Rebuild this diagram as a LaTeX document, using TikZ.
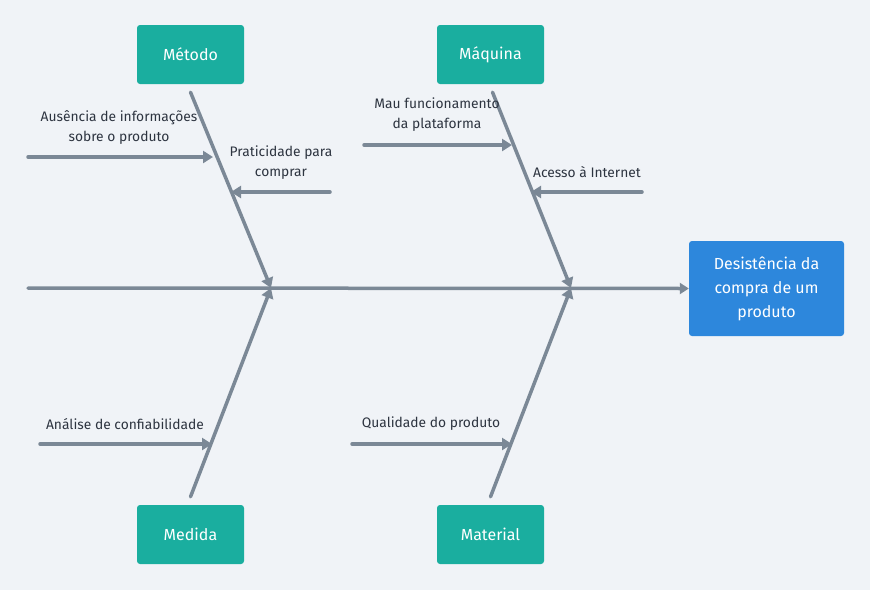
\documentclass[tikz,border=0pt]{standalone}
\usepackage{fontspec}
\setmainfont{Fira Sans}
\usepackage{tikz}
\usetikzlibrary{arrows.meta}

\definecolor{bgcol}{HTML}{F0F3F7}
\definecolor{catcol}{HTML}{1AAE9F}
\definecolor{effcol}{HTML}{2D87DC}
\definecolor{bonecol}{HTML}{7B8896}
\definecolor{txtcol}{HTML}{2D3440}

\begin{document}
\begin{tikzpicture}
    [x=1pt,y=-1pt,
     category/.style={fill=catcol,rounded corners=3pt,minimum width=107pt,minimum height=59pt,
       text=white,font=\fontsize{16}{24}\selectfont},
     effect/.style={fill=effcol,rounded corners=3pt,minimum width=155pt,minimum height=95pt,
       text=white,align=center,font=\fontsize{16}{24}\selectfont},
     bone/.style={draw=bonecol,line width=3.5pt,line cap=round,-{Triangle[length=10pt,width=12pt]}},
     cause/.style={draw=bonecol,line width=3.5pt,line cap=round,-{Triangle[length=10pt,width=12pt]}},
     causetext/.style={text=txtcol,align=center,inner sep=0pt,font=\fontsize{13.8}{20}\selectfont}]
    \fill[bgcol] (0,0) rectangle (870,590);
    % categories and effect
    \node[category] (METODO) at (190.5,54.5) {Método};
    \node[category] (MAQUINA) at (490.5,54.5) {Máquina};
    \node[category] (MEDIDA) at (190.5,534.5) {Medida};
    \node[category] (MATERIAL) at (490.5,534.5) {Material};
    \node[effect] (EFFECT) at (766.5,288.5) {Desistência da\\compra de um\\produto};
    % spine
    \coordinate (TAIL) at (28,288);
    \coordinate (SPa) at (271,288);
    \coordinate (SPb) at (571,288);
    \draw[bone,-{Triangle[length=9pt,width=11pt]}] (TAIL) -- (EFFECT.west);
    \draw[bone] ([yshift=-8pt]METODO.south) -- (SPa);
    \draw[bone] ([xshift=2pt,yshift=-8pt]MAQUINA.south) -- (SPb);
    \draw[bone] ([yshift=8pt]MEDIDA.north) -- (SPa);
    \draw[bone] ([yshift=8pt]MATERIAL.north) -- (SPb);
    % causes
    \coordinate (METODOa) at (28,157);   \coordinate (METODOahead) at (213,157);
    \coordinate (METODOb) at (330,192);  \coordinate (METODObhead) at (231,192);
    \coordinate (MAQUINAa) at (364,145); \coordinate (MAQUINAahead) at (512,145);
    \coordinate (MAQUINAb) at (642,192); \coordinate (MAQUINAbhead) at (531,192);
    \coordinate (MEDIDAa) at (40,444);   \coordinate (MEDIDAahead) at (212,444);
    \coordinate (MATERIALa) at (352,444); \coordinate (MATERIALahead) at (512,444);
    \draw[cause] (METODOa) -- (METODOahead);
    \draw[cause] (METODOb) -- (METODObhead);
    \draw[cause] (MAQUINAa) -- (MAQUINAahead);
    \draw[cause] (MAQUINAb) -- (MAQUINAbhead);
    \draw[cause] (MEDIDAa) -- (MEDIDAahead);
    \draw[cause] (MATERIALa) -- (MATERIALahead);
    \draw (119,127) node(METODOatext) [causetext] {Ausência de informações\\sobre o produto};
    \draw (281,163) node(METODObtext) [causetext] {Praticidade para\\comprar};
    \draw (437,115) node(MAQUINAatext) [causetext] {Mau funcionamento\\da plataforma};
    \draw (587,172) node(MAQUINAbtext) [causetext] {Acesso à Internet};
    \draw (125,424) node(MEDIDAatext) [causetext] {Análise de confiabilidade};
    \draw (431,424) node(MATERIALatext) [causetext] {Qualidade do produto};
\end{tikzpicture}
\end{document}
